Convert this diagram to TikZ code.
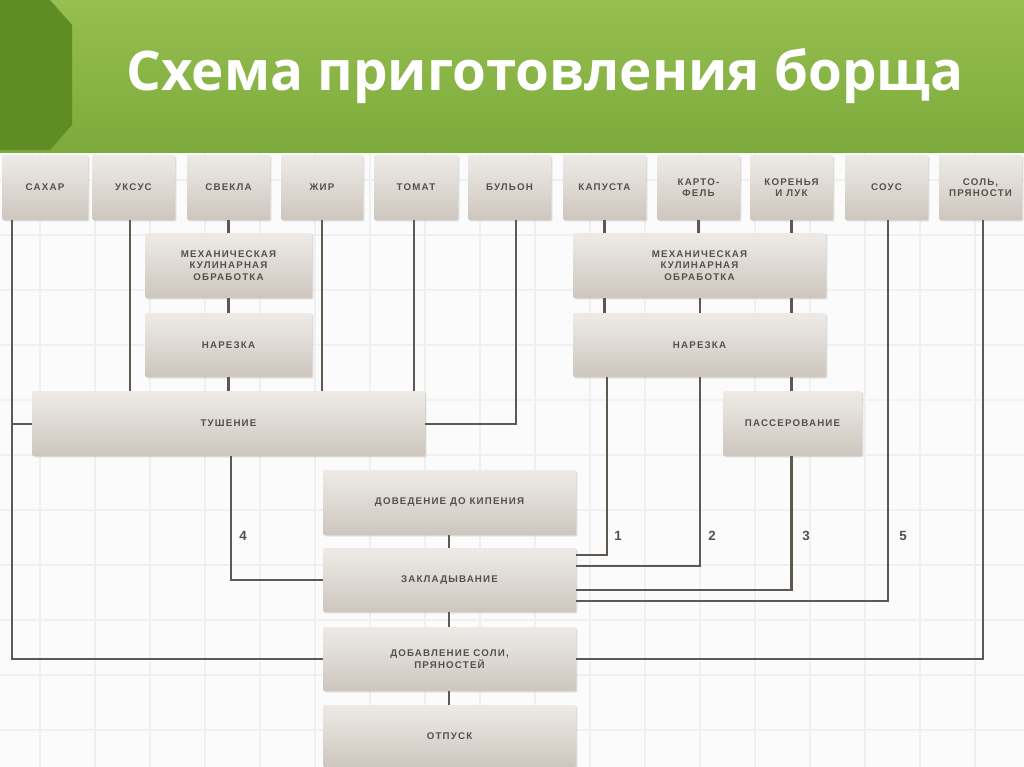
\documentclass[tikz,border=0pt]{standalone}
\usepackage{fontspec}
\usetikzlibrary{shadows}
\setmainfont{Liberation Sans}
\newfontfamily\titlefont{Open Sans}
\definecolor{boxc}{RGB}{226,221,215}
\definecolor{boxd}{RGB}{205,198,190}
\definecolor{linec}{RGB}{95,88,80}
\definecolor{txtc}{RGB}{85,80,75}
\definecolor{greenA}{RGB}{150,190,80}
\definecolor{greenB}{RGB}{125,170,60}
\definecolor{greenD}{RGB}{95,140,35}
\definecolor{gridc}{RGB}{240,240,240}
\begin{document}
\begin{tikzpicture}[x=0.75pt,y=-0.75pt,
  bx/.style={draw=none,top color=boxc!60!white,bottom color=boxd,rounded corners=1pt,
    font=\bfseries\addfontfeature{LetterSpace=12}\fontsize{7.3}{8.5}\selectfont,text=txtc,align=center,inner sep=0pt,
    drop shadow={opacity=0.25,shadow xshift=1pt,shadow yshift=-1pt}},
  ln/.style={draw=linec,line width=2pt},
  lab/.style={font=\bfseries\fontsize{10}{12}\selectfont,text=txtc}]
\useasboundingbox (0,0) rectangle (1024,767);
\fill[white!97!gray] (0,0) rectangle (1024,767);
\foreach \x in {40,95,...,1024} \draw[gridc,line width=1pt] (\x,152) -- (\x,767);
\foreach \y in {180,235,...,767} \draw[gridc,line width=1pt] (0,\y) -- (1024,\y);
\shade[top color=greenA,bottom color=greenB] (0,0) rectangle (1024,152);
\fill[greenD] (0,0) -- (50,0) -- (72,25) -- (72,125) -- (50,150) -- (0,150) -- cycle;
\node[text=white,font=\titlefont\bfseries\fontsize{41}{44}\selectfont] (title) at (545,76) {Схема приготовления борща};
\newcommand{\bxx}[6]{\node[bx,minimum width={(#3-#2)*0.75pt},minimum height={(#5-#4)*0.75pt}] (#1) at ({(#2+#3)/2},{(#4+#5)/2}) {#6};}
\bxx{b1}{2}{88}{155}{220}{САХАР}
\bxx{b2}{92}{175}{155}{220}{УКСУС}
\bxx{b3}{187}{270}{155}{220}{СВЕКЛА}
\bxx{b4}{281}{363}{155}{220}{ЖИР}
\bxx{b5}{374}{458}{155}{220}{ТОМАТ}
\bxx{b6}{468}{551}{155}{220}{БУЛЬОН}
\bxx{b7}{563}{646}{155}{220}{КАПУСТА}
\bxx{b8}{657}{740}{155}{220}{КАРТО-\\ФЕЛЬ}
\bxx{b9}{750}{833}{155}{220}{КОРЕНЬЯ\\И ЛУК}
\bxx{b10}{845}{928}{155}{220}{СОУС}
\bxx{b11}{939}{1022}{155}{220}{СОЛЬ,\\ПРЯНОСТИ}
\bxx{m1}{145}{312}{233}{298}{МЕХАНИЧЕСКАЯ\\КУЛИНАРНАЯ\\ОБРАБОТКА}
\bxx{n1}{145}{312}{313}{377}{НАРЕЗКА}
\bxx{t}{32}{425}{391}{456}{ТУШЕНИЕ}
\bxx{m2}{573}{826}{233}{298}{МЕХАНИЧЕСКАЯ\\КУЛИНАРНАЯ\\ОБРАБОТКА}
\bxx{n2}{573}{826}{313}{377}{НАРЕЗКА}
\bxx{p}{723}{862}{391}{456}{ПАССЕРОВАНИЕ}
\bxx{d}{323}{576}{470}{535}{ДОВЕДЕНИЕ ДО КИПЕНИЯ}
\bxx{z}{323}{576}{548}{612}{ЗАКЛАДЫВАНИЕ}
\bxx{a}{323}{576}{627}{691}{ДОБАВЛЕНИЕ СОЛИ,\\ПРЯНОСТЕЙ}
\bxx{o}{323}{576}{705}{767}{ОТПУСК}
\coordinate (c1) at (12,424);
\draw[ln] (b1.south -| c1) -- (12,659) -- (a.west |- 0,659);
\draw[ln] (c1) -- (t.west |- c1);
\draw[ln] (b2.south -| 130,0) -- (t.north -| 130,0);
\draw[ln] (b3.south) -- (m1.north -| b3.south);
\draw[ln] (m1.south -| b3.south) -- (n1.north -| b3.south);
\draw[ln] (n1.south -| b3.south) -- (t.north -| b3.south);
\draw[ln] (b4.south) -- (t.north -| b4.south);
\draw[ln] (b5.south -| 414,0) -- (t.north -| 414,0);
\draw[ln] (b6.south -| 516,0) -- (516,424) -- (t.east |- 0,424);
\draw[ln] (t.south -| 231,0) -- (231,580) -- (z.west |- 0,580);
\draw[ln] (b7.south) -- (m2.north -| b7.south);
\draw[ln] (m2.south -| b7.south) -- (n2.north -| b7.south);
\draw[ln] (n2.south -| 607,0) -- (607,555) -- (z.east |- 0,555);
\draw[ln] (b8.south) -- (m2.north -| b8.south);
\draw[ln] (m2.south -| 700,0) -- (n2.north -| 700,0);
\draw[ln] (n2.south -| 700,0) -- (700,566) -- (z.east |- 0,566);
\draw[ln] (b9.south) -- (m2.north -| b9.south);
\draw[ln] (m2.south -| b9.south) -- (n2.north -| b9.south);
\draw[ln] (n2.south -| b9.south) -- (p.north -| b9.south);
\draw[ln] (p.south -| b9.south) -- (b9.south |- 0,590) -- (z.east |- 0,590);
\draw[ln] (b10.south -| 888,0) -- (888,601) -- (z.east |- 0,601);
\draw[ln] (b11.south -| 983,0) -- (983,659) -- (a.east |- 0,659);
\draw[ln] (d.south -| 449,0) -- (z.north -| 449,0);
\draw[ln] (z.south -| 449,0) -- (a.north -| 449,0);
\draw[ln] (a.south -| 449,0) -- (o.north -| 449,0);
\node[lab] (l4) at (243,536) {4};
\node[lab] (l1) at (618,536) {1};
\node[lab] (l2) at (712,536) {2};
\node[lab] (l3) at (806,536) {3};
\node[lab] (l5) at (903,536) {5};
\end{tikzpicture}
\end{document}
